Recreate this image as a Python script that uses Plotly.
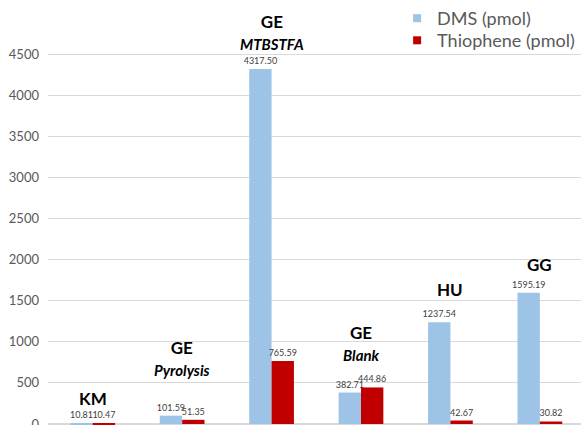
import plotly.graph_objects as go

categories = ["KM", "GE Pyrolysis", "GE MTBSTFA", "GE Blank", "HU", "GG"]
group_titles = ["KM", "GE", "GE", "GE", "HU", "GG"]
group_subtitles = ["", "Pyrolysis", "MTBSTFA", "Blank", "", ""]
dms = [10.81, 101.59, 4317.50, 382.71, 1237.54, 1595.19]
thiophene = [10.47, 51.35, 765.59, 444.86, 42.67, 30.82]
y_ticks = [0, 500, 1000, 1500, 2000, 2500, 3000, 3500, 4000, 4500]
series_names = ["DMS (pmol)", "Thiophene (pmol)"]
series_colors = ["#9DC3E6", "#C00000"]

FONT = "Lato"
GREY = "#595959"

fig = go.Figure()
for vals, name, col in zip([dms, thiophene], series_names, series_colors):
    fig.add_trace(go.Bar(
        x=categories, y=vals, name=name, showlegend=False,
        marker=dict(color=col, line=dict(width=0)),
        texttemplate="%{y:.2f}", textposition="outside",
        textfont=dict(size=9, color="#404040", family=FONT),
        constraintext="none", cliponaxis=False,
    ))
# legend entries with small square swatches (one legend per row)
for name, col, lg in zip(series_names, series_colors, ["legend", "legend2"]):
    fig.add_trace(go.Scatter(
        x=[None], y=[None], mode="markers", name=name, legend=lg,
        marker=dict(symbol="square", size=8, color=col),
    ))

# pixel offsets of the group captions above the tallest bar (style)
caption_shift = [12, 35, 14, 21, 20, 16]
for i, cat in enumerate(categories):
    top = max(dms[i], thiophene[i])
    txt = "<b>%s</b>" % group_titles[i]
    if group_subtitles[i]:
        txt += "<br><b><i><span style='font-size:15px'>%s</span></i></b>" % group_subtitles[i]
    fig.add_annotation(
        x=cat, y=top, text=txt, showarrow=False,
        yanchor="bottom", yshift=caption_shift[i],
        font=dict(size=17, color="#000000", family=FONT),
    )

legend_style = dict(
    xanchor="left", yanchor="top",
    font=dict(size=18, color=GREY, family=FONT),
    bgcolor="rgba(0,0,0,0)", itemwidth=30,
)
fig.update_layout(
    width=581, height=425,
    margin=dict(l=48, r=0, t=0, b=0, autoexpand=False),
    paper_bgcolor="white", plot_bgcolor="white",
    barmode="group", bargap=0.5, bargroupgap=0,
    font=dict(family=FONT, color=GREY),
    showlegend=True,
    legend=dict(x=0.655, y=1.0, **legend_style),
    legend2=dict(x=0.655, y=0.948, **legend_style),
)
fig.update_xaxes(
    range=[-0.5, 5.46], showticklabels=False, showgrid=False,
    showline=False, zeroline=False, fixedrange=True, automargin=False,
)
fig.update_yaxes(
    range=[-12, 5157], tickvals=y_ticks, showgrid=True,
    gridcolor="#D9D9D9", gridwidth=1, zeroline=True,
    zerolinecolor="#D9D9D9", showline=False, automargin=False,
    tickfont=dict(size=13, color=GREY, family=FONT),
    ticklabelstandoff=8, ticklabeloverflow="allow",
)

fig.write_html(
    "out.html",
    config={"displayModeBar": False},
    post_script="document.body.style.margin='0px';document.body.style.overflow='hidden';",
)
